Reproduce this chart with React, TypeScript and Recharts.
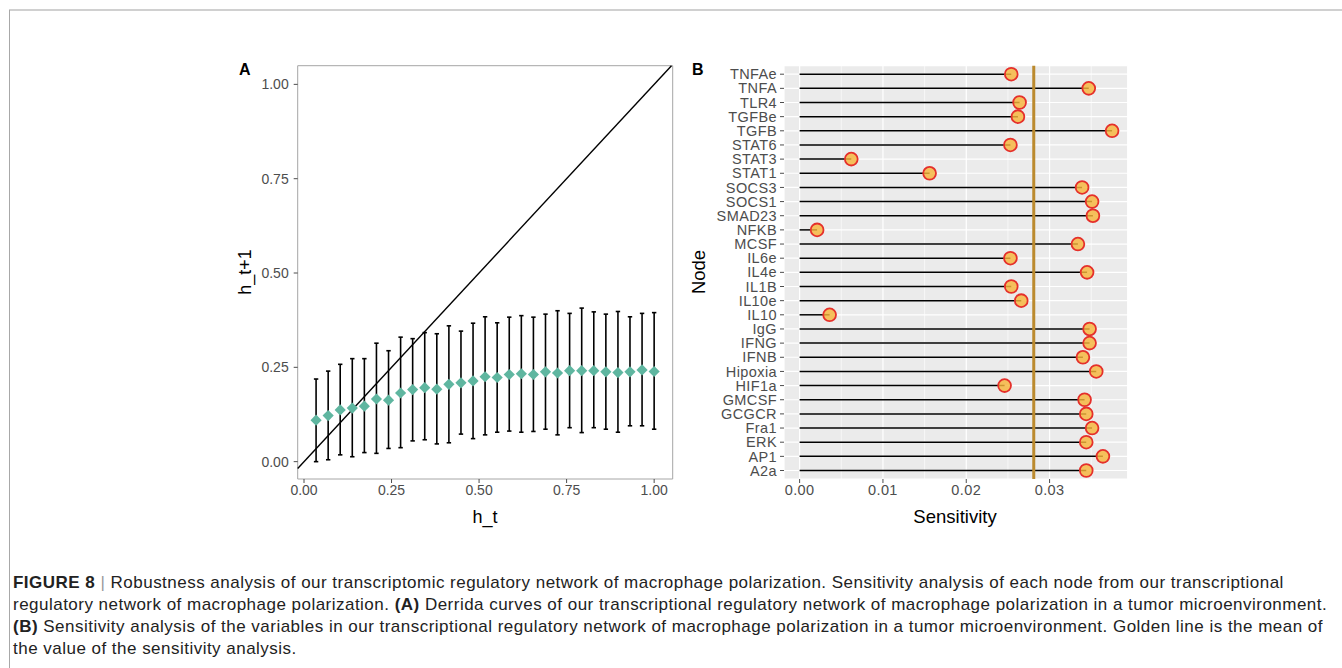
import React from 'react'
import {
  ScatterChart, Scatter, XAxis, YAxis, CartesianGrid, ErrorBar, ReferenceLine, ReferenceArea,
} from 'recharts'

// Panel A: Derrida curve
const HT = [0.0345, 0.069, 0.1034, 0.1379, 0.1724, 0.2069, 0.2414, 0.2759, 0.3103, 0.3448, 0.3793, 0.4138, 0.4483, 0.4828, 0.5172, 0.5517, 0.5862, 0.6207, 0.6552, 0.6897, 0.7241, 0.7586, 0.7931, 0.8276, 0.8621, 0.8966, 0.931, 0.9655, 1.0]
const HT1_MEAN = [0.110, 0.122, 0.137, 0.142, 0.147, 0.166, 0.163, 0.182, 0.191, 0.196, 0.192, 0.205, 0.209, 0.214, 0.225, 0.223, 0.231, 0.233, 0.231, 0.238, 0.235, 0.241, 0.241, 0.241, 0.238, 0.236, 0.238, 0.243, 0.239]
const HT1_UPPER = [0.219, 0.240, 0.258, 0.273, 0.273, 0.314, 0.294, 0.330, 0.326, 0.342, 0.339, 0.360, 0.346, 0.367, 0.384, 0.368, 0.383, 0.387, 0.383, 0.391, 0.400, 0.393, 0.407, 0.397, 0.391, 0.398, 0.384, 0.393, 0.395]
const HT1_LOWER = [0.000, 0.005, 0.018, 0.013, 0.024, 0.022, 0.035, 0.037, 0.055, 0.058, 0.047, 0.050, 0.073, 0.061, 0.071, 0.078, 0.081, 0.078, 0.080, 0.086, 0.071, 0.090, 0.077, 0.090, 0.086, 0.078, 0.095, 0.095, 0.086]
const A_TICKS = [0, 0.25, 0.5, 0.75, 1]
const XA_DOMAIN = [-0.018, 1.053]
const YA_DOMAIN = [-0.046, 1.0495]

// Panel B: sensitivity per node (top to bottom)
const NODES = ['TNFAe', 'TNFA', 'TLR4', 'TGFBe', 'TGFB', 'STAT6', 'STAT3', 'STAT1', 'SOCS3', 'SOCS1', 'SMAD23', 'NFKB', 'MCSF', 'IL6e', 'IL4e', 'IL1B', 'IL10e', 'IL10', 'IgG', 'IFNG', 'IFNB', 'Hipoxia', 'HIF1a', 'GMCSF', 'GCGCR', 'Fra1', 'ERK', 'AP1', 'A2a']
const SENSITIVITY = [0.0254, 0.0347, 0.0264, 0.0262, 0.0375, 0.0253, 0.0062, 0.0156, 0.0339, 0.0351, 0.0352, 0.0021, 0.0334, 0.0253, 0.0345, 0.0254, 0.0266, 0.0036, 0.0348, 0.0348, 0.0340, 0.0356, 0.0246, 0.0342, 0.0344, 0.0351, 0.0344, 0.0364, 0.0344]
const MEAN_SENS = 0.0281
const B_TICKS = [0, 0.01, 0.02, 0.03]
const B_MINOR = [0.005, 0.015, 0.025, 0.035]
const XB_DOMAIN = [-0.001875, 0.039375]

const FONT = '"Liberation Sans", Arial, Helvetica, sans-serif'
const tickA = { fontSize: 14, fill: '#4d4d4d', fontFamily: FONT }
const tickB = { fontSize: 14.5, fill: '#4d4d4d', fontFamily: FONT, letterSpacing: 0.4 }
const f2 = (v: number) => v.toFixed(2)

const derrida = HT.map((x, i) => ({
  x, y: HT1_MEAN[i], err: [HT1_MEAN[i] - HT1_LOWER[i], HT1_UPPER[i] - HT1_MEAN[i]],
}))
const sens = NODES.map((name, i) => ({ name, pos: i, s: SENSITIVITY[i], seg: [SENSITIVITY[i], 0] }))

const Diamond = (p: any) => {
  const r = 5.6
  return <polygon points={`${p.cx},${p.cy - r} ${p.cx + r},${p.cy} ${p.cx},${p.cy + r} ${p.cx - r},${p.cy}`} fill="#5fb6a0" />
}
const Dot = (p: any) => (
  <circle cx={p.cx} cy={p.cy} r={6.4} fill="#f6b53a" fillOpacity={0.82} stroke="#e5302b" strokeWidth={1.8} />
)
const Empty = () => <g />

const abs = (left: number, top: number, extra: React.CSSProperties = {}): React.CSSProperties => ({
  position: 'absolute', left, top, fontFamily: FONT, whiteSpace: 'nowrap', ...extra,
})

export default function App() {
  return (
    <div style={{ position: 'absolute', left: 0, top: 0, width: 1342, height: 668, background: '#fff', overflow: 'hidden', fontFamily: FONT }}>
      <div style={{ position: 'absolute', left: 9, top: 9, right: 0, height: 2, background: '#d0d0d0' }} />
      <div style={{ position: 'absolute', left: 9, top: 10, width: 1, bottom: 0, background: '#a8a8a8' }} />

      <div style={abs(239, 61, { fontSize: 16, fontWeight: 700 })}>A</div>
      <div style={abs(692, 61, { fontSize: 16, fontWeight: 700 })}>B</div>

      <div style={abs(230, 50)}>
        <ScatterChart width={450} height={460} margin={{ top: 15.7, right: 7.3, bottom: 6, left: 27.7 }}>
          <XAxis type="number" dataKey="x" domain={XA_DOMAIN} ticks={A_TICKS} allowDataOverflow tickFormatter={f2}
            tick={tickA} tickSize={4} tickMargin={2} axisLine={false} tickLine={{ stroke: '#4d4d4d' }} height={25} interval={0} />
          <YAxis type="number" dataKey="y" domain={YA_DOMAIN} ticks={A_TICKS} allowDataOverflow tickFormatter={f2}
            tick={tickA} tickSize={4} tickMargin={5} axisLine={false} tickLine={{ stroke: '#4d4d4d' }} width={40} interval={0} />
          <ReferenceArea x1={XA_DOMAIN[0]} x2={XA_DOMAIN[1]} y1={YA_DOMAIN[0]} y2={YA_DOMAIN[1]} fill="none" fillOpacity={0} stroke="#a6a6a6" strokeWidth={1} ifOverflow="visible" />
          <ReferenceLine segment={[{ x: XA_DOMAIN[0], y: XA_DOMAIN[0] }, { x: YA_DOMAIN[1], y: YA_DOMAIN[1] }]} stroke="#000" strokeWidth={1.4} ifOverflow="visible" />
          <Scatter data={derrida} shape={Empty} isAnimationActive={false}>
            <ErrorBar dataKey="err" direction="y" width={2.2} stroke="#000" strokeWidth={1.6} isAnimationActive={false} />
          </Scatter>
          <Scatter data={derrida} shape={Diamond} isAnimationActive={false} />
        </ScatterChart>
      </div>
      <div style={abs(485, 517, { fontSize: 18, transform: 'translate(-50%,-50%)' })}>h_t</div>
      <div style={abs(245, 272, { fontSize: 18, transform: 'translate(-50%,-50%) rotate(-90deg)' })}>h_t+1</div>

      <div style={abs(690, 50)}>
        <ScatterChart width={450} height={460} margin={{ top: 15.7, right: 12.3, bottom: 6, left: 14 }}>
          <CartesianGrid fill="#ebebeb" stroke="#ffffff" strokeWidth={0.6} horizontal={false} verticalValues={B_MINOR} />
          <CartesianGrid stroke="#ffffff" strokeWidth={1.2} />
          <XAxis type="number" dataKey="s" domain={XB_DOMAIN} ticks={B_TICKS} allowDataOverflow tickFormatter={f2}
            tick={tickB} tickSize={4} tickMargin={2} axisLine={false} tickLine={{ stroke: '#4d4d4d' }} height={25} interval={0} />
          <YAxis type="number" dataKey="pos" domain={[-0.6, NODES.length - 0.4]} reversed ticks={NODES.map((_, i) => i)} allowDataOverflow
            tickFormatter={(i: number) => NODES[i]} tick={tickB} tickSize={4} tickMargin={3} axisLine={false} tickLine={{ stroke: '#4d4d4d' }} width={80} interval={0} />
          <Scatter data={sens} shape={Empty} isAnimationActive={false}>
            <ErrorBar dataKey="seg" direction="x" width={0} stroke="#000" strokeWidth={1.5} isAnimationActive={false} />
          </Scatter>
          <ReferenceLine x={MEAN_SENS} stroke="#bb8a2e" strokeWidth={3} />
          <Scatter data={sens} shape={Dot} isAnimationActive={false} />
        </ScatterChart>
      </div>
      <div style={abs(955, 517, { fontSize: 18.5, transform: 'translate(-50%,-50%)' })}>Sensitivity</div>
      <div style={abs(699, 272, { fontSize: 18.5, transform: 'translate(-50%,-50%) rotate(-90deg)' })}>Node</div>

      <div style={abs(13, 572, { fontSize: 17, lineHeight: '22px', color: '#222', letterSpacing: 0.48 })}>
        <div><b>FIGURE 8</b> <span style={{ color: '#999', fontWeight: 300 }}>|</span> Robustness analysis of our transcriptomic regulatory network of macrophage polarization. Sensitivity analysis of each node from our transcriptional</div>
        <div>regulatory network of macrophage polarization. <b>(A)</b> Derrida curves of our transcriptional regulatory network of macrophage polarization in a tumor microenvironment.</div>
        <div><b>(B)</b> Sensitivity analysis of the variables in our transcriptional regulatory network of macrophage polarization in a tumor microenvironment. Golden line is the mean of</div>
        <div>the value of the sensitivity analysis.</div>
      </div>
    </div>
  )
}
